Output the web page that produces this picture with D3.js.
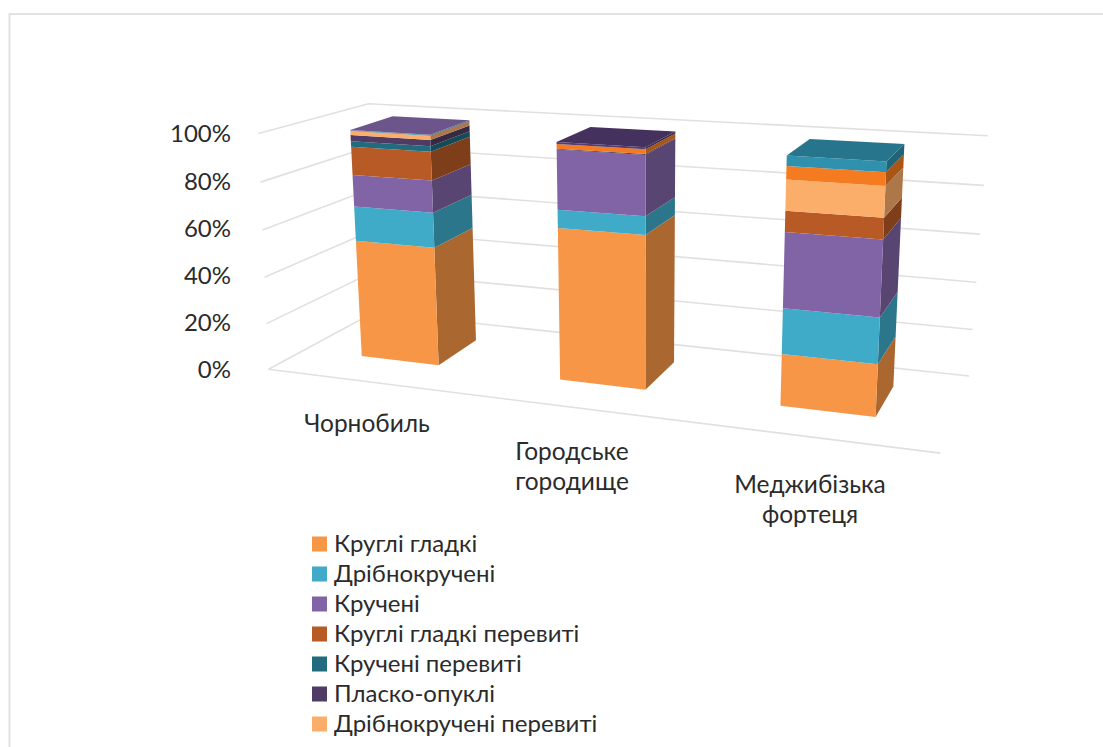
<!DOCTYPE html>
<html lang="uk">
<head>
<meta charset="utf-8">
<title>Типи скронених кілець</title>
<script src="https://cdn.jsdelivr.net/npm/d3@7/dist/d3.min.js"></script>
<style>
html,body{margin:0;padding:0;background:#fff}
svg{display:block}
text{font-family:Lato,"Noto Sans",sans-serif;fill:#2b2b2b}
</style>
</head>
<body>
<script>
// Categories and tick labels
const categories = ["Чорнобиль", "Городське|городище", "Меджибізька|фортеця"];
const percentTicks = [0, 20, 40, 60, 80, 100];

// Legend entries (the box closes after the seventh one)
const legendNames = ["Круглі гладкі", "Дрібнокручені", "Кручені", "Круглі гладкі перевиті",
  "Кручені перевиті", "Пласко-опуклі", "Дрібнокручені перевиті"];

// Shares per category, bottom of the stack first
const kruhliHladki   = [52.0, 64.8, 21.4];
const dribnokrucheni = [15.0, 7.6, 18.6];
const krucheni       = [13.7, 24.6, 30.4];
const kruhliPereviti = [12.1, 0, 8.3];
const kruchPereviti  = [2.4, 0, 0];
const plaskoOpukli   = [2.6, 0.3, 0];
const dribnoPereviti = [1.7, 0, 12.1];
const series8        = [0, 1.9, 5.2];
const series9        = [0.3, 0, 4.0];
const series10       = [0, 0.8, 0];
const series11       = [0.2, 0, 0];

const seriesValues = [kruhliHladki, dribnokrucheni, krucheni, kruhliPereviti, kruchPereviti,
  plaskoOpukli, dribnoPereviti, series8, series9, series10, series11];
const seriesColors = ["#F79646", "#3FABC8", "#8064A6", "#B85A26", "#206C7E", "#4F3B63",
  "#FBAD6A", "#F47B20", "#3091AE", "#553D73", "#8569AC"];

const width = 1103, height = 747;
const svg = d3.select("body").append("svg").attr("width", width).attr("height", height);

// Outer chart frame; its right and bottom sides run past the page
svg.append("rect").attr("x", 9.5).attr("y", 14).attr("width", 1200).attr("height", 900)
  .attr("fill", "#fff").attr("stroke", "#E2E2E2").attr("stroke-width", 2);

// Scales into the unit box
const xBand = d3.scaleBand().domain(categories).range([0, 1]).paddingInner(0.6).paddingOuter(0.3);
const yValue = d3.scaleLinear().domain([0, 100]).range([0, 1]);

// Least-squares camera: [x, value, depth] -> [screen x, screen y]
function solve(A, b) {
  const n = b.length, M = A.map((r, i) => [...r, b[i]]);
  for (let c = 0; c < n; c++) {
    let p = c;
    for (let r = c + 1; r < n; r++) if (Math.abs(M[r][c]) > Math.abs(M[p][c])) p = r;
    [M[c], M[p]] = [M[p], M[c]];
    for (let r = 0; r < n; r++) {
      if (r === c) continue;
      const f = M[r][c] / M[c][c];
      for (let k = c; k <= n; k++) M[r][k] -= f * M[c][k];
    }
  }
  return M.map((r, i) => r[n] / r[i]);
}
function fitCamera(pairs) {
  const rows = [], rhs = [];
  pairs.forEach(([[X, Y, Z], [u, v]]) => {
    rows.push([X, Y, Z, 1, 0, 0, 0, 0, -u * X, -u * Y, -u * Z]); rhs.push(u);
    rows.push([0, 0, 0, 0, X, Y, Z, 1, -v * X, -v * Y, -v * Z]); rhs.push(v);
  });
  const n = 11;
  const AtA = d3.range(n).map(i => d3.range(n).map(j => d3.sum(rows, r => r[i] * r[j])));
  const Atb = d3.range(n).map(i => d3.sum(rows, (r, k) => r[i] * rhs[k]));
  const cam = solve(AtA, Atb);
  return ([X, Y, Z]) => {
    const w = cam[8] * X + cam[9] * Y + cam[10] * Z + 1;
    return [(cam[0] * X + cam[1] * Y + cam[2] * Z + cam[3]) / w,
            (cam[4] * X + cam[5] * Y + cam[6] * Z + cam[7]) / w];
  };
}

// The walls and the columns each get their own calibration
const projectBox = fitCamera([
  [[0, 0, 0], [272, 369]], [[1, 0, 0], [940, 454]],
  [[0, 0, 1], [370, 313]], [[1, 0, 1], [970, 375]],
  [[0, 1, 0], [255, 133]], [[0, 1, 1], [372, 104]], [[1, 1, 1], [987, 136]]
]);
const cornerKeys = [[0, 0, 0], [1, 0, 0], [1, 0, 1], [0, 1, 0], [1, 1, 0], [1, 1, 1], [0, 1, 1]];
const columnGuides = [
  [[361, 354], [438, 365], [476, 341], [351, 129], [431, 139], [470, 120], [391, 116]],
  [[559, 380], [645, 389], [680, 362], [557, 140], [646, 149], [674, 132], [590, 127]],
  [[779, 407], [875, 417], [892, 387], [787, 154], [889, 161], [903, 144], [809, 138]]
];
const projectBar = fitCamera(categories.flatMap((c, i) => cornerKeys.map(([sx, v, z], k) =>
  [[xBand(c) + sx * xBand.bandwidth(), v, z], columnGuides[i][k]])));

// Gridlines on the back wall and on the left wall, plus the front floor edge
const line = d3.line();
const grid = svg.append("g").attr("fill", "none").attr("stroke", "#E3DFDF").attr("stroke-width", 1.6);
percentTicks.forEach(t => {
  const y = yValue(t);
  grid.append("path").attr("d", line([[0, y, 0], [0, y, 1], [1, y, 1]].map(projectBox)));
});
grid.append("path").attr("d", line([[0, 0, 0], [1, 0, 0]].map(projectBox)));

// Stacked bars
const stackInput = categories.map((c, i) => {
  const row = { category: c };
  seriesValues.forEach((s, k) => { row[k] = s[i]; });
  return row;
});
const stacked = d3.stack().keys(d3.range(seriesValues.length))(stackInput);
const face = pts => line(pts.map(projectBar)) + "Z";
const shade = (c, k) => d3.rgb(c).darker(k).formatHex();

const bars = svg.append("g");
categories.forEach((c, i) => {
  const x0 = xBand(c), x1 = x0 + xBand.bandwidth();
  const g = bars.append("g");
  let topIndex = -1;
  stacked.forEach((layer, k) => {
    if (layer[i][1] - layer[i][0] <= 0) return;
    topIndex = k;
    const a = yValue(layer[i][0]), b = yValue(layer[i][1]);
    g.append("path").attr("d", face([[x1, a, 0], [x1, a, 1], [x1, b, 1], [x1, b, 0]]))
      .attr("fill", shade(seriesColors[k], 1.05));
    g.append("path").attr("d", face([[x0, a, 0], [x1, a, 0], [x1, b, 0], [x0, b, 0]]))
      .attr("fill", seriesColors[k]);
  });
  const t = yValue(stacked[topIndex][i][1]);
  g.append("path").attr("d", face([[x0, t, 0], [x1, t, 0], [x1, t, 1], [x0, t, 1]]))
    .attr("fill", shade(seriesColors[topIndex], 0.6));
});

// Percentage axis labels
const tickY = d3.scaleLinear().domain([0, 100]).range([370, 134]);
svg.append("g").selectAll("text").data(percentTicks).join("text")
  .attr("x", 231).attr("y", d => tickY(d)).attr("dy", "0.35em").attr("text-anchor", "end")
  .attr("font-size", 24).text(d => d + "%");

// Category labels, centred under their bars
const labelCenters = [367, 572, 810];
const labelTops = [423, 451, 484];
categories.forEach((c, i) => {
  c.split("|").forEach((part, j) => {
    svg.append("text").attr("x", labelCenters[i]).attr("y", labelTops[i] + j * 30.5)
      .attr("dy", "0.35em").attr("text-anchor", "middle").attr("font-size", 24.5).text(part);
  });
});

// Legend
const legendY = d3.scalePoint().domain(legendNames).range([544, 724]);
const legend = svg.append("g").selectAll("g").data(legendNames).join("g")
  .attr("transform", d => `translate(0,${legendY(d)})`);
legend.append("rect").attr("x", 312).attr("y", -7.5).attr("width", 15).attr("height", 15)
  .attr("fill", (d, i) => seriesColors[i]);
legend.append("text").attr("x", 334).attr("dy", "0.32em").attr("font-size", 24).text(d => d);
</script>
</body>
</html>
